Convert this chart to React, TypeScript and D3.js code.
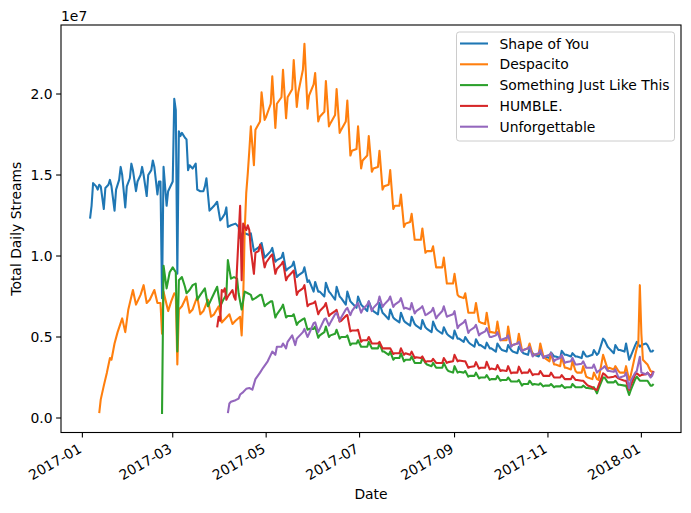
import { useEffect, useRef } from "react";
import * as d3 from "d3";

type Pt = [string, number];

const seriesNames = ["Shape of You", "Despacito", "Something Just Like This", "HUMBLE.", "Unforgettable"];
const seriesColors = ["#1f77b4", "#ff7f0e", "#2ca02c", "#d62728", "#9467bd"];
const xTickDates = ["2017-01-01", "2017-03-01", "2017-05-01", "2017-07-01", "2017-09-01", "2017-11-01", "2018-01-01"];
const yTickValues = [0, 0.5e7, 1.0e7, 1.5e7, 2.0e7];
// weekly rows hold values for Fri, Sun, Mon, Thu
const weekOffsets = [0, 2, 3, 6];

// all values in millions of streams
const shapeOfYouHead: Pt[] = [
  ["2017-01-06", 12.3], ["2017-01-07", 13.1], ["2017-01-08", 14.5], ["2017-01-10", 14.3], ["2017-01-11", 14.1],
  ["2017-01-12", 14.4], ["2017-01-13", 14.3], ["2017-01-15", 12.9], ["2017-01-16", 14.2], ["2017-01-18", 14.4],
  ["2017-01-19", 14.7], ["2017-01-20", 14.3], ["2017-01-22", 12.8], ["2017-01-23", 14.1], ["2017-01-25", 14.7],
  ["2017-01-26", 15.5], ["2017-01-27", 15.0], ["2017-01-29", 13.0], ["2017-01-30", 14.3], ["2017-02-01", 14.8],
  ["2017-02-02", 15.7], ["2017-02-03", 15.3], ["2017-02-05", 14.0], ["2017-02-06", 14.6], ["2017-02-08", 15.0],
  ["2017-02-09", 15.5], ["2017-02-10", 15.0], ["2017-02-12", 13.7], ["2017-02-13", 15.0], ["2017-02-15", 15.3],
  ["2017-02-16", 15.9], ["2017-02-17", 15.5], ["2017-02-19", 13.8], ["2017-02-20", 14.6], ["2017-02-21", 14.6],
  ["2017-02-22", 7.4], ["2017-02-23", 15.5], ["2017-02-25", 13.1], ["2017-02-26", 14.0], ["2017-02-28", 14.4],
  ["2017-03-01", 14.6], ["2017-03-02", 19.7], ["2017-03-03", 19.0], ["2017-03-04", 8.9], ["2017-03-05", 17.7],
  ["2017-03-06", 17.4], ["2017-03-07", 17.6], ["2017-03-09", 17.3], ["2017-03-10", 17.2], ["2017-03-11", 15.3],
  ["2017-03-12", 15.6], ["2017-03-14", 15.4], ["2017-03-16", 15.7], ["2017-03-17", 14.1], ["2017-03-19", 14.0],
  ["2017-03-21", 14.0], ["2017-03-22", 14.3], ["2017-03-23", 14.8], ["2017-03-25", 12.8], ["2017-03-26", 12.9],
  ["2017-03-28", 13.1], ["2017-03-30", 13.35], ["2017-04-01", 12.2], ["2017-04-02", 12.3], ["2017-04-04", 12.6],
  ["2017-04-05", 13.0], ["2017-04-06", 11.8], ["2017-04-08", 11.9], ["2017-04-11", 12.0], ["2017-04-13", 11.8],
];
const shapeOfYouWeeks = [
  [11.1, 11.5, 11.4, 11.3], [11.4, 10.3, 10.4, 10.6], [10.8, 9.9, 10.0, 10.3], [10.5, 9.65, 9.75, 9.9],
  [10.2, 9.1, 9.2, 9.4], [9.65, 8.7, 8.8, 9.0], [9.3, 8.4, 8.5, 7.8], [8.4, 7.8, 7.8, 7.5],
  [8.35, 7.8, 7.7, 7.3], [8.1, 7.5, 7.4, 7.0], [7.8, 7.2, 7.1, 6.8], [7.5, 7.0, 6.9, 6.6],
  [7.2, 6.7, 6.6, 6.4], [7.1, 6.5, 6.4, 6.1], [6.7, 6.2, 6.1, 5.9], [6.5, 6.0, 5.9, 5.7],
  [6.25, 5.8, 5.7, 5.5], [6.05, 5.6, 5.5, 5.3], [5.95, 5.5, 5.4, 5.2], [5.6, 5.2, 5.1, 4.9],
  [5.4, 4.9, 4.9, 4.7], [5.0, 4.7, 4.6, 4.4], [4.86, 4.5, 4.5, 4.3], [4.65, 4.3, 4.3, 4.1],
  [4.6, 4.3, 4.2, 4.1], [4.5, 4.2, 4.1, 4.0], [4.4, 4.1, 4.0, 3.9], [4.3, 4.0, 3.9, 3.8],
  [4.05, 3.8, 3.8, 3.7], [4.05, 3.8, 3.8, 3.7], [4.15, 3.9, 3.9, 3.8], [4.0, 3.8, 3.8, 3.7],
  [4.1, 3.8, 3.8, 3.9], [4.2, 3.9, 4.0, 4.9], [4.8, 4.4, 4.3, 4.0], [4.5, 4.2, 4.2, 4.1],
  [4.6, 3.6, 3.8, 4.5], [4.7, 4.4, 4.5, 4.6], [4.5, 4.1, 4.1],
];
const shapeOfYouTail: Pt[] = [["2018-01-09", 4.2]];

const despacitoHead: Pt[] = [
  ["2017-01-12", 0.3], ["2017-01-13", 1.15], ["2017-01-15", 2.0], ["2017-01-17", 2.8], ["2017-01-19", 3.7],
  ["2017-01-20", 3.6], ["2017-01-22", 4.6], ["2017-01-24", 5.3], ["2017-01-27", 6.15], ["2017-01-29", 5.3],
  ["2017-01-31", 6.7], ["2017-02-03", 7.9], ["2017-02-05", 7.0], ["2017-02-08", 7.6], ["2017-02-10", 8.2],
  ["2017-02-12", 7.1], ["2017-02-14", 7.3], ["2017-02-17", 7.9], ["2017-02-19", 7.1], ["2017-02-21", 7.1],
  ["2017-02-22", 5.2], ["2017-02-23", 7.8], ["2017-02-26", 6.6], ["2017-02-28", 7.2], ["2017-03-02", 7.7],
  ["2017-03-03", 7.6], ["2017-03-04", 3.3], ["2017-03-05", 6.7], ["2017-03-07", 6.9], ["2017-03-10", 7.5],
  ["2017-03-12", 6.5], ["2017-03-14", 6.7], ["2017-03-17", 7.5], ["2017-03-19", 6.4], ["2017-03-21", 6.6],
  ["2017-03-24", 7.3], ["2017-03-26", 6.25], ["2017-03-28", 6.4], ["2017-03-31", 6.9], ["2017-04-02", 5.9],
  ["2017-04-04", 6.1], ["2017-04-07", 6.4], ["2017-04-09", 5.8], ["2017-04-11", 6.0], ["2017-04-14", 6.25],
  ["2017-04-15", 5.1], ["2017-04-16", 7.3], ["2017-04-17", 11.6], ["2017-04-18", 13.9], ["2017-04-19", 15.1],
  ["2017-04-20", 16.5],
];
const despacitoWeeks = [
  [18.0, 15.6, 17.8, 18.3], [20.1, 18.4, 18.6, 19.4], [21.1, 17.9, 19.4, 19.8], [21.5, 18.5, 19.8, 20.3],
  [22.1, 19.2, 20.1, 21.5], [23.1, 19.1, 19.9, 20.6], [21.3, 18.3, 18.6, 18.9], [20.8, 18.0, 18.2, 18.7],
  [20.3, 17.6, 17.8, 18.3], [19.6, 16.2, 16.5, 16.6], [18.0, 15.4, 15.9, 16.2], [17.4, 15.2, 15.4, 15.5],
  [16.5, 14.1, 14.3, 14.4], [15.3, 12.9, 13.1, 13.1], [13.8, 11.8, 12.0, 12.1], [12.6, 11.0, 11.0, 11.0],
  [11.7, 10.2, 10.3, 10.3], [10.6, 9.3, 9.3, 9.3], [9.9, 8.3, 8.3, 8.3], [8.9, 7.6, 7.5, 7.4],
  [7.7, 6.5, 6.5, 6.5], [7.1, 5.95, 5.9, 5.8], [6.5, 5.3, 5.3, 5.25], [5.95, 4.8, 4.8, 4.8],
  [5.65, 4.5, 4.5, 4.6], [5.2, 4.2, 4.2, 4.3], [4.6, 3.9, 3.9, 3.95], [4.6, 3.8, 3.7, 3.5],
  [4.0, 3.3, 3.3, 3.2], [3.8, 3.1, 3.1, 3.0], [3.5, 2.9, 2.8, 2.8], [3.2, 2.55, 2.5, 2.4],
  [2.8, 2.4, 2.35, 3.9], [3.6, 3.0, 3.1, 3.0], [3.2, 2.9, 2.8, 2.8], [3.2, 2.35, 2.6, 3.9],
];
const despacitoTail: Pt[] = [
  ["2017-12-29", 4.3], ["2017-12-30", 4.6], ["2017-12-31", 8.2], ["2018-01-01", 5.2], ["2018-01-02", 3.6],
  ["2018-01-04", 3.4], ["2018-01-05", 3.3], ["2018-01-07", 2.9], ["2018-01-09", 2.8],
];

const somethingJustLikeThisHead: Pt[] = [
  ["2017-02-22", 0.25], ["2017-02-23", 9.4], ["2017-02-25", 8.0], ["2017-02-27", 9.0], ["2017-03-01", 9.3],
  ["2017-03-03", 9.0], ["2017-03-04", 4.1], ["2017-03-05", 8.5], ["2017-03-07", 8.7], ["2017-03-09", 8.1],
  ["2017-03-10", 7.7], ["2017-03-12", 7.9], ["2017-03-14", 8.2], ["2017-03-16", 8.3], ["2017-03-17", 7.3],
  ["2017-03-19", 7.6], ["2017-03-22", 8.0], ["2017-03-24", 6.9], ["2017-03-26", 7.3], ["2017-03-30", 8.1],
  ["2017-04-01", 6.9], ["2017-04-03", 7.3], ["2017-04-05", 7.6], ["2017-04-06", 9.75], ["2017-04-08", 8.6],
  ["2017-04-10", 8.7], ["2017-04-12", 8.6], ["2017-04-13", 7.7], ["2017-04-15", 6.7], ["2017-04-17", 7.8],
  ["2017-04-19", 7.7], ["2017-04-21", 7.6], ["2017-04-22", 7.3], ["2017-04-24", 7.4], ["2017-04-27", 7.6],
];
const somethingJustLikeThisWeeks = [
  [7.6, 6.9, 7.0, 7.2], [7.2, 6.2, 6.4, 6.8], [7.0, 6.2, 6.3, 6.3], [6.4, 5.75, 5.9, 6.1],
  [6.15, 5.45, 5.5, 5.5], [5.65, 4.95, 5.1, 5.3], [5.65, 5.0, 5.1, 5.2], [5.45, 4.9, 5.0, 5.0],
  [5.1, 4.5, 4.6, 4.6], [4.8, 4.4, 4.4, 4.4], [4.7, 4.3, 4.3, 4.3], [4.6, 4.1, 4.1, 3.9],
  [4.1, 3.6, 3.7, 3.7], [4.0, 3.5, 3.6, 3.6], [3.8, 3.4, 3.4, 3.4], [3.7, 3.4, 3.3, 3.2],
  [3.4, 3.1, 3.1, 3.1], [3.4, 3.0, 2.9, 2.8], [3.2, 2.8, 2.85, 2.8], [2.9, 2.55, 2.6, 2.6],
  [2.8, 2.45, 2.5, 2.5], [2.65, 2.35, 2.4, 2.4], [2.6, 2.3, 2.35, 2.35], [2.5, 2.25, 2.25, 2.25],
  [2.35, 2.0, 2.1, 2.1], [2.3, 2.05, 2.1, 2.05], [2.14, 1.95, 2.0, 2.0], [2.1, 1.9, 1.95, 1.95],
  [2.04, 1.85, 1.9, 1.9], [2.1, 1.9, 1.9, 1.9], [2.0, 1.85, 1.85, 1.8], [1.9, 1.52, 1.8, 2.5],
  [2.5, 2.2, 2.2, 2.2], [2.3, 2.05, 2.05, 2.0], [2.0, 1.42, 1.7, 2.4], [2.55, 2.3, 2.3, 2.3],
  [2.3, 2.0, 2.0],
];
const somethingJustLikeThisTail: Pt[] = [["2018-01-09", 2.1]];

const humbleHead: Pt[] = [
  ["2017-03-30", 5.6], ["2017-03-31", 6.25], ["2017-04-01", 6.0], ["2017-04-02", 7.9], ["2017-04-03", 7.8],
  ["2017-04-04", 8.0], ["2017-04-05", 7.3], ["2017-04-06", 7.5], ["2017-04-09", 7.9], ["2017-04-10", 7.5],
  ["2017-04-11", 7.3], ["2017-04-12", 9.3], ["2017-04-14", 13.1], ["2017-04-15", 8.5], ["2017-04-16", 12.0],
  ["2017-04-18", 11.6], ["2017-04-19", 11.9], ["2017-04-20", 11.6], ["2017-04-21", 10.4], ["2017-04-23", 8.9],
  ["2017-04-24", 10.2], ["2017-04-26", 10.3], ["2017-04-27", 10.7],
];
const humbleWeeks = [
  [10.4, 9.3, 9.6, 10.0], [10.1, 8.9, 9.2, 9.5], [9.65, 8.5, 8.7, 9.0], [9.1, 7.6, 7.8, 8.0],
  [8.2, 6.9, 7.0, 7.1], [7.2, 6.4, 6.6, 6.9], [7.1, 6.3, 6.4, 6.6], [6.67, 5.95, 6.0, 6.3],
  [6.36, 5.35, 5.4, 5.4], [5.45, 4.7, 4.8, 4.8], [5.0, 4.6, 4.6, 4.6], [4.7, 4.3, 4.3, 4.3],
  [4.3, 3.95, 4.0, 4.0], [4.3, 3.9, 4.0, 3.9], [4.1, 3.7, 3.75, 3.7], [3.8, 3.45, 3.5, 3.5],
  [3.65, 3.4, 3.4, 3.4], [3.7, 3.4, 3.45, 3.5], [3.9, 3.5, 3.55, 3.5], [3.5, 3.1, 3.15, 3.2],
  [3.45, 3.05, 3.1, 3.1], [3.47, 3.0, 3.05, 3.0], [3.27, 2.9, 2.95, 2.9], [3.2, 2.76, 2.8, 2.8],
  [3.17, 2.76, 2.8, 2.8], [3.0, 2.65, 2.7, 2.7], [2.9, 2.6, 2.6, 2.6], [2.8, 2.5, 2.5, 2.5],
  [2.65, 2.4, 2.4, 2.4], [2.6, 2.35, 2.35, 2.3], [2.3, 2.1, 2.0, 1.9], [1.8, 1.73, 2.0, 2.76],
  [2.7, 2.5, 2.5, 2.55], [2.6, 2.45, 2.4, 2.3], [2.3, 1.73, 2.0, 2.7], [2.76, 2.6, 2.65, 2.7],
  [2.8, 2.6, 2.7],
];
const humbleTail: Pt[] = [["2018-01-09", 2.9]];

const unforgettableHead: Pt[] = [
  ["2017-04-06", 0.3], ["2017-04-07", 0.9], ["2017-04-08", 1.0], ["2017-04-11", 1.1], ["2017-04-13", 1.2],
  ["2017-04-14", 1.45], ["2017-04-16", 1.6], ["2017-04-18", 1.8], ["2017-04-20", 1.85], ["2017-04-22", 1.75],
  ["2017-04-24", 2.4], ["2017-04-27", 2.8], ["2017-04-29", 3.1], ["2017-05-02", 3.5], ["2017-05-05", 4.1],
  ["2017-05-07", 3.9], ["2017-05-08", 4.4], ["2017-05-11", 4.4], ["2017-05-12", 4.6], ["2017-05-14", 4.3],
  ["2017-05-15", 4.7], ["2017-05-18", 5.1], ["2017-05-20", 4.5], ["2017-05-21", 4.9], ["2017-05-25", 5.3],
];
const unforgettableWeeks = [
  [5.5, 5.0, 5.2, 5.85], [5.9, 5.3, 5.5, 6.1], [6.15, 5.7, 5.9, 6.4], [6.5, 6.0, 6.2, 6.7],
  [6.8, 6.35, 6.6, 7.0], [7.1, 6.5, 6.7, 7.0], [7.2, 6.6, 6.8, 7.1], [7.5, 6.85, 7.0, 7.3],
  [7.5, 6.85, 7.0, 7.2], [7.4, 6.75, 6.8, 6.7], [7.1, 6.45, 6.6, 6.8], [6.9, 6.35, 6.4, 6.6],
  [6.8, 6.15, 6.3, 6.6], [6.9, 6.25, 6.3, 6.4], [6.6, 5.55, 5.7, 5.9], [6.05, 5.25, 5.4, 5.6],
  [5.75, 5.1, 5.2, 5.35], [5.55, 5.0, 5.0, 5.1], [5.3, 4.8, 4.85, 4.95], [5.1, 4.4, 4.5, 4.6],
  [4.7, 4.1, 4.2, 4.3], [4.4, 3.8, 3.9, 4.0], [4.2, 3.7, 3.8, 3.9], [4.0, 3.5, 3.6, 3.7],
  [3.9, 3.4, 3.45, 3.5], [3.7, 3.3, 3.3, 3.35], [3.5, 3.1, 3.1, 3.1], [3.3, 2.8, 2.9, 3.1],
  [3.2, 2.9, 2.9, 2.85], [3.0, 2.5, 2.5, 2.6], [2.8, 1.83, 2.3, 2.8], [2.9, 3.78, 2.8, 2.7],
  [2.8, 2.5, 2.6],
];
const unforgettableTail: Pt[] = [["2018-01-09", 2.86]];

const parseDay = d3.utcParse("%Y-%m-%d");

type Point = { date: Date; value: number };

function buildSeries(head: Pt[], firstFriday: string, weeks: number[][], tail: Pt[]): Point[] {
  const pts: Point[] = head.map(([d, v]) => ({ date: parseDay(d)!, value: v * 1e6 }));
  const start = parseDay(firstFriday)!;
  weeks.forEach((row, i) => {
    row.forEach((v, j) => {
      pts.push({ date: d3.utcDay.offset(start, i * 7 + weekOffsets[j]), value: v * 1e6 });
    });
  });
  tail.forEach(([d, v]) => pts.push({ date: parseDay(d)!, value: v * 1e6 }));
  return pts.sort((a, b) => +a.date - +b.date);
}

function App() {
  const svgRef = useRef<SVGSVGElement | null>(null);

  useEffect(() => {
    if (!svgRef.current) return;
    document.body.style.margin = "0";

    const width = 691;
    const height = 513;
    const margin = { top: 25, right: 10, bottom: 80.5, left: 61 };
    const font = "DejaVu Sans, sans-serif";
    const fs = 13.9;
    const lineW = 2.08; // 1.5pt at 100 dpi
    const spineW = 1.1;

    const series = [
      buildSeries(shapeOfYouHead, "2017-04-14", shapeOfYouWeeks, shapeOfYouTail),
      buildSeries(despacitoHead, "2017-04-21", despacitoWeeks, despacitoTail),
      buildSeries(somethingJustLikeThisHead, "2017-04-28", somethingJustLikeThisWeeks, somethingJustLikeThisTail),
      buildSeries(humbleHead, "2017-04-28", humbleWeeks, humbleTail),
      buildSeries(unforgettableHead, "2017-05-26", unforgettableWeeks, unforgettableTail),
    ];

    const svg = d3.select(svgRef.current).attr("width", width).attr("height", height);
    svg.selectAll("*").remove();

    const x = d3
      .scaleUtc()
      .domain([new Date(Date.UTC(2016, 11, 18, 1)), new Date(Date.UTC(2018, 0, 26, 21))])
      .range([margin.left, width - margin.right]);
    const y = d3
      .scaleLinear()
      .domain([-0.895e6, 24.26e6])
      .range([height - margin.bottom, margin.top]);

    const line = d3
      .line<Point>()
      .x((d) => x(d.date))
      .y((d) => y(d.value));

    const g = svg.append("g");
    series.forEach((s, i) => {
      g.append("path")
        .datum(s)
        .attr("d", line)
        .attr("fill", "none")
        .attr("stroke", seriesColors[i])
        .attr("stroke-width", lineW)
        .attr("stroke-linejoin", "round");
    });

    // frame
    svg
      .append("rect")
      .attr("x", margin.left)
      .attr("y", margin.top)
      .attr("width", width - margin.left - margin.right)
      .attr("height", height - margin.top - margin.bottom)
      .attr("fill", "none")
      .attr("stroke", "#000")
      .attr("stroke-width", spineW);

    const bottom = height - margin.bottom;

    // x ticks
    xTickDates.forEach((ds) => {
      const tx = x(parseDay(ds)!);
      svg.append("line").attr("x1", tx).attr("x2", tx).attr("y1", bottom).attr("y2", bottom + 4.9)
        .attr("stroke", "#000").attr("stroke-width", spineW);
      svg.append("text")
        .attr("transform", `translate(${tx - 5},${bottom + 10}) rotate(-30)`)
        .attr("text-anchor", "end")
        .attr("dominant-baseline", "hanging")
        .style("font-family", font)
        .style("font-size", `${fs}px`)
        .text(d3.utcFormat("%Y-%m")(parseDay(ds)!));
    });

    // y ticks
    yTickValues.forEach((v) => {
      const ty = y(v);
      svg.append("line").attr("x1", margin.left - 4.9).attr("x2", margin.left).attr("y1", ty).attr("y2", ty)
        .attr("stroke", "#000").attr("stroke-width", spineW);
      svg.append("text")
        .attr("x", margin.left - 8.5)
        .attr("y", ty)
        .attr("text-anchor", "end")
        .attr("dominant-baseline", "central")
        .style("font-family", font)
        .style("font-size", `${fs}px`)
        .text(d3.format(".1f")(v / 1e7));
    });

    svg.append("text")
      .attr("x", margin.left)
      .attr("y", margin.top - 4)
      .style("font-family", font)
      .style("font-size", `${fs}px`)
      .text("1e7");

    svg.append("text")
      .attr("x", (margin.left + width - margin.right) / 2)
      .attr("y", 494)
      .attr("text-anchor", "middle")
      .attr("dominant-baseline", "central")
      .style("font-family", font)
      .style("font-size", `${fs}px`)
      .text("Date");

    svg.append("text")
      .attr("transform", `translate(16,${(margin.top + bottom) / 2}) rotate(-90)`)
      .attr("text-anchor", "middle")
      .attr("dominant-baseline", "central")
      .style("font-family", font)
      .style("font-size", `${fs}px`)
      .text("Total Daily Streams");

    // legend
    const lg = svg.append("g");
    lg.append("rect")
      .attr("x", 456.5)
      .attr("y", 32)
      .attr("width", 218)
      .attr("height", 109)
      .attr("rx", 2.8)
      .attr("fill", "#fff")
      .attr("fill-opacity", 0.8)
      .attr("stroke", "#cccccc")
      .attr("stroke-width", 1);
    seriesNames.forEach((name, i) => {
      const ly = 43.5 + i * 20.8;
      lg.append("line").attr("x1", 460).attr("x2", 488).attr("y1", ly).attr("y2", ly)
        .attr("stroke", seriesColors[i]).attr("stroke-width", lineW);
      lg.append("text")
        .attr("x", 499.5)
        .attr("y", ly)
        .attr("dominant-baseline", "central")
        .style("font-family", font)
        .style("font-size", `${fs}px`)
        .text(name);
    });

    return () => {
      d3.select(svgRef.current).selectAll("*").remove();
    };
  }, []);

  return <svg ref={svgRef}></svg>;
}

export default App;
